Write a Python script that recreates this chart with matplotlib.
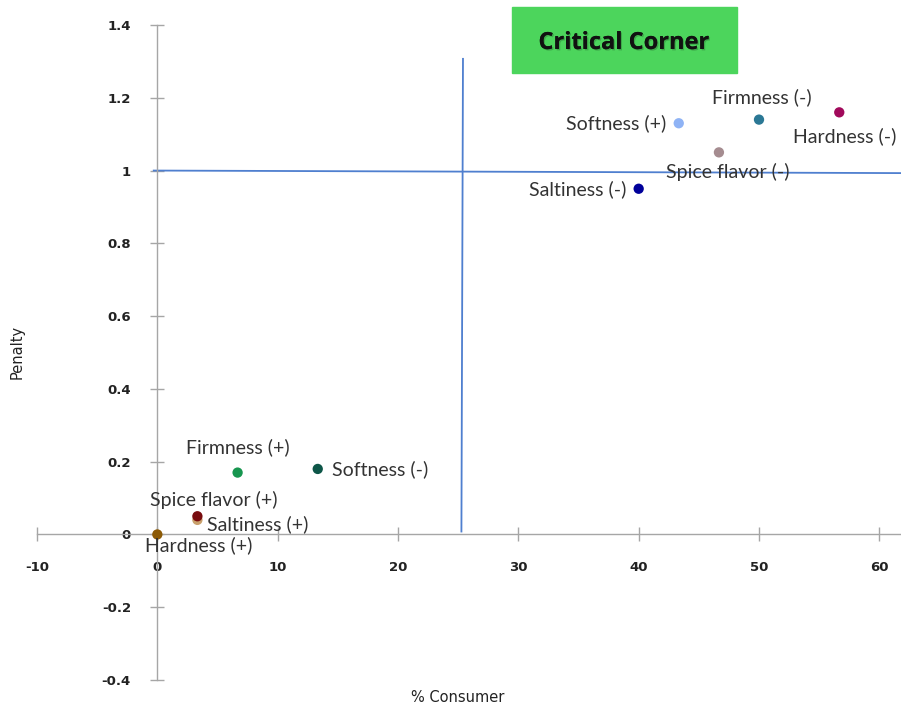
import matplotlib.pyplot as plt
import matplotlib.patheffects as pe
from matplotlib.ticker import FuncFormatter

# attributes: % consumer vs penalty
labels = ['Hardness (+)', 'Saltiness (+)', 'Spice flavor (+)', 'Firmness (+)', 'Softness (-)',
          'Saltiness (-)', 'Softness (+)', 'Spice flavor (-)', 'Firmness (-)', 'Hardness (-)']
consumer = [0, 3.33, 3.33, 6.67, 13.33, 40, 43.33, 46.67, 50, 56.67]
penalty = [0, 0.04, 0.05, 0.17, 0.18, 0.95, 1.13, 1.05, 1.14, 1.16]
colors = ['#8c5a06', '#c9a06c', '#780b0e', '#17964f', '#0d5648',
          '#00009a', '#8fb3f5', '#a58c90', '#2b7895', '#a1095b']
# label offsets (points) and alignment
offsets = [(30, -8), (7, -3), (12, 12), (0, 18), (10, 0),
           (-9, 0), (-9, 0), (6, -14), (2, 16), (4, -17)]
aligns = ['center', 'left', 'center', 'center', 'left',
          'right', 'right', 'center', 'center', 'center']

# threshold lines (drawn by hand in the original, slightly tilted)
hline_x = [-0.3, 61.8]
hline_y = [1.0, 0.993]
vline_x = [25.4, 25.27]
vline_y = [1.307, 0.008]

fig = plt.figure(figsize=(9.01, 7.11), dpi=100)
ax = fig.add_axes([37 / 901, 31 / 711, 864 / 901, 655 / 711])
ax.set_xlim(-10, 61.8)
ax.set_ylim(-0.4, 1.4)

for s in ['top', 'right']:
    ax.spines[s].set_visible(False)
ax.spines['left'].set_position(('data', 0))
ax.spines['bottom'].set_position(('data', 0))
for s in ['left', 'bottom']:
    ax.spines[s].set_color('#a6a6a6')
    ax.spines[s].set_linewidth(1)

ax.set_xticks([-10, 0, 10, 20, 30, 40, 50, 60])
ax.set_yticks([-0.4, -0.2, 0, 0.2, 0.4, 0.6, 0.8, 1.0, 1.2, 1.4])
fmt = FuncFormatter(lambda v, p: f'{v:g}')
ax.xaxis.set_major_formatter(fmt)
ax.yaxis.set_major_formatter(fmt)
ax.tick_params(axis='both', direction='inout', length=10, color='#a6a6a6',
               labelsize=9.5, width=1)
ax.tick_params(axis='x', pad=14)
ax.tick_params(axis='y', pad=14)
for t in ax.get_xticklabels() + ax.get_yticklabels():
    t.set_fontweight('bold')
    t.set_color('#222222')

ax.plot(hline_x, hline_y, color='#4f7fcf', lw=1.3, zorder=2)
ax.plot(vline_x, vline_y, color='#4f7fcf', lw=1.3, zorder=2)

ax.scatter(consumer, penalty, c=colors, s=55, zorder=3, edgecolors='none')
for lab, x, y, off, ha in zip(labels, consumer, penalty, offsets, aligns):
    ax.annotate(lab, (x, y), xytext=off, textcoords='offset points', ha=ha, va='center',
                fontsize=14, family='Lato', color='#333333', zorder=4)

fig.text(458 / 901, 1 - 698 / 711, '% Consumer', ha='center', va='center', fontsize=10.5,
         color='#222222')
fig.text(17 / 901, 1 - 352 / 711, 'Penalty', ha='center', va='center', rotation=90,
         fontsize=10.5, color='#222222')

# "Critical Corner" box
fig.patches.append(plt.Rectangle((512 / 901, 1 - 73 / 711), 225 / 901, 66 / 711,
                                 transform=fig.transFigure, color='#4cd55c', zorder=1))
fig.text(624 / 901, 1 - 43 / 711, 'Critical Corner', ha='center', va='center',
         fontsize=17, fontweight='bold', family='Open Sans', color='#111111',
         path_effects=[pe.withSimplePatchShadow(offset=(1, -1), alpha=0.2),
                       pe.Normal()])

fig.savefig('out.png', dpi=100)
